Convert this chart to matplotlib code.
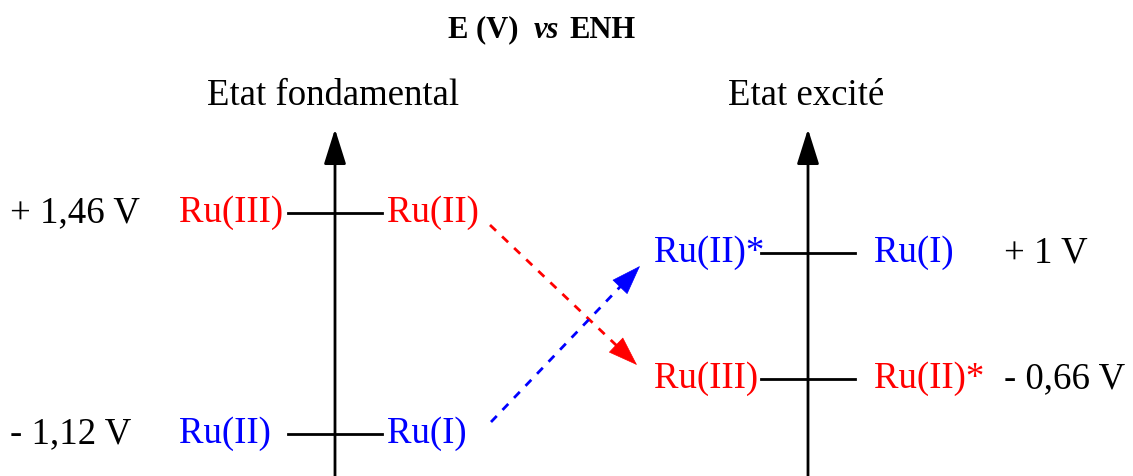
import matplotlib.pyplot as plt
import numpy as np

plt.rcParams['font.family'] = ['Liberation Serif', 'DejaVu Serif']

# potentials (V vs ENH) for each column
gs_E = [1.46, -1.12]             # ground state
gs_left = ['Ru(III)', 'Ru(II)']
gs_right = ['Ru(II)', 'Ru(I)']
gs_colors = ['red', 'blue']
gs_vlabels = ['+ 1,46 V', '- 1,12 V']

es_E = [1.0, -0.66]              # excited state
es_left = ['Ru(II)*', 'Ru(III)']
es_right = ['Ru(I)', 'Ru(II)*']
es_colors = ['blue', 'red']
es_vlabels = ['+ 1 V', '- 0,66 V']

W, H = 1133, 477
fig = plt.figure(figsize=(W / 100, H / 100), dpi=100)
ax = fig.add_axes([0, 0, 1, 1])
ax.set_xlim(0, W)
ax.set_ylim(H, 0)
ax.axis('off')

FS = 26.5


def scale(E, E_top, y_top, E_bot, y_bot):
    return y_top + (E_top - np.asarray(E)) * (y_bot - y_top) / (E_top - E_bot)


gs_y = scale(gs_E, gs_E[0], 213, gs_E[1], 434)
es_y = scale(es_E, es_E[0], 253, es_E[1], 379)

head = dict(arrowstyle='-|>,head_length=1.08,head_width=0.34',
            color='black', lw=2, mutation_scale=20, shrinkA=0, shrinkB=0)


def column(x0, ys, left, right, colors, vlabels, title, xl, xr, xv):
    ax.annotate('', xy=(x0, 130), xytext=(x0, 477), arrowprops=head)
    ax.text(x0 - 2, 96, title, fontsize=FS, ha='center', va='center')
    for y, l, r, c, v in zip(ys, left, right, colors, vlabels):
        ax.plot([x0 - 47, x0 + 47], [y + 1, y + 1], color='black', lw=2)
        ax.text(xl, y, l, color=c, fontsize=FS, ha='left', va='center')
        ax.text(xr, y, r, color=c, fontsize=FS, ha='left', va='center')
        ax.text(xv, y, v, color='black', fontsize=FS, ha='left', va='center')


column(335, gs_y, gs_left, gs_right, gs_colors, gs_vlabels,
       'Etat fondamental', 179, 387, 10)
column(808, es_y, es_left, es_right, es_colors, es_vlabels,
       'Etat excité', 654, 874, 1004)

# title in three pieces so "vs" can be bold italic
ty = 30
ax.text(518, ty, 'E (V)', fontsize=22, fontweight='bold', ha='right', va='center')
ax.text(546, ty, 'vs', fontsize=22, fontweight='bold', fontstyle='italic',
        ha='center', va='center')
ax.text(569, ty, 'ENH', fontsize=22, fontweight='bold', ha='left', va='center')


def dashed_arrow(p0, p1, color):
    p0, p1 = np.array(p0, float), np.array(p1, float)
    d = (p1 - p0) / np.hypot(*(p1 - p0))
    pb = p1 - d * 28
    ax.plot([p0[0], pb[0]], [p0[1], pb[1]], color=color, lw=2, ls=(0, (3, 3)))
    ax.annotate('', xy=p1, xytext=pb,
                arrowprops=dict(arrowstyle='-|>,head_length=1.0,head_width=0.35',
                                color=color, lw=0.5, mutation_scale=20,
                                shrinkA=0, shrinkB=0))


# electron transfer arrows
dashed_arrow((490, 226), (637, 366), 'red')
dashed_arrow((491, 423), (640, 267), 'blue')

plt.savefig('out.png', dpi=100)
